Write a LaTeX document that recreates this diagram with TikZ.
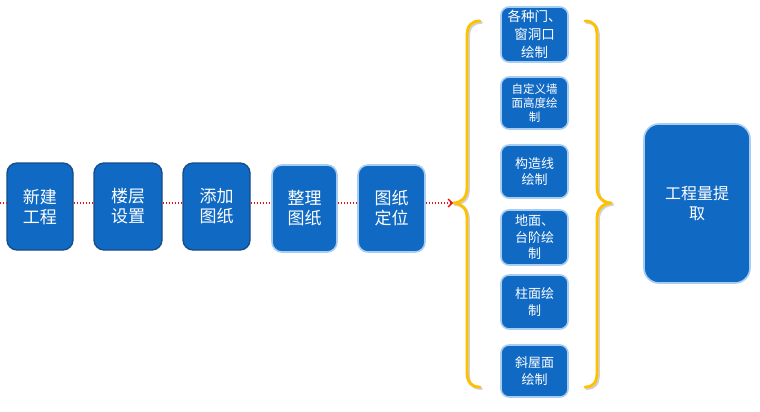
\documentclass[tikz,border=0pt]{standalone}
\usepackage{fontspec}
\setmainfont{Noto Sans CJK SC}
\usetikzlibrary{arrows.meta}
\definecolor{boxblue}{HTML}{1069C3}
\definecolor{darkedge}{HTML}{164C86}
\definecolor{glowedge}{HTML}{A7CDF2}
\definecolor{bracecol}{HTML}{FFC000}
\definecolor{flowred}{HTML}{F01010}
\tikzset{
  leftbox/.style={draw=darkedge, line width=1.3pt, fill=boxblue, rounded corners=10pt,
    text=white, align=center, inner sep=0pt, minimum width=66pt, minimum height=87pt,
    font=\fontsize{17}{20}\selectfont},
  glowbox/.style={draw=glowedge, line width=1.6pt, fill=boxblue, rounded corners=10pt,
    text=white, align=center, inner sep=0pt, minimum width=66pt, minimum height=87pt,
    font=\fontsize{17}{20}\selectfont},
  colbox/.style={draw=glowedge, line width=1.6pt, fill=boxblue, rounded corners=8pt,
    text=white, align=center, inner sep=0pt, minimum width=67pt,
    font=\fontsize{13}{16.5}\selectfont},
  bigbox/.style={draw=glowedge, line width=1.6pt, fill=boxblue, rounded corners=15pt,
    text=white, align=center, inner sep=0pt, minimum width=106pt, minimum height=159pt,
    font=\fontsize{16}{20}\selectfont},
  bracepath/.style={draw=bracecol, line width=2.8pt, line cap=round},
  braceshadow/.style={draw=black!18, line width=2.8pt, line cap=round},
  flowline/.style={draw=flowred, line width=1.4pt, dash pattern=on 1.4pt off 1.6pt},
}
\begin{document}
\begin{tikzpicture}[x=1pt,y=-1pt]
\useasboundingbox[fill=white] (0,0) rectangle (760,412);

% braces (shadow first)
\begin{scope}[shift={(1.5,1.5)}]
\draw[braceshadow] (480,21) .. controls (471,21) and (467,26) .. (467,36) -- (467,188) .. controls (467,198) and (461,203) .. (453,203) .. controls (461,203) and (467,208) .. (467,218) -- (467,372) .. controls (467,382) and (471,387) .. (480,387);
\draw[braceshadow] (585,21) .. controls (594,21) and (597,26) .. (597,36) -- (597,188) .. controls (597,198) and (604,203) .. (612,203) .. controls (604,203) and (597,208) .. (597,218) -- (597,372) .. controls (597,382) and (594,387) .. (585,387);
\end{scope}
\draw[bracepath] (480,21) .. controls (471,21) and (467,26) .. (467,36) -- (467,188) .. controls (467,198) and (461,203) .. (453,203) .. controls (461,203) and (467,208) .. (467,218) -- (467,372) .. controls (467,382) and (471,387) .. (480,387);
\draw[bracepath] (585,21) .. controls (594,21) and (597,26) .. (597,36) -- (597,188) .. controls (597,198) and (604,203) .. (612,203) .. controls (604,203) and (597,208) .. (597,218) -- (597,372) .. controls (597,382) and (594,387) .. (585,387);

% flow boxes
\node[leftbox] (b1) at (40,206.5) {新建\\工程};
\node[leftbox, minimum width=68pt] (b2) at (128,206.5) {楼层\\设置};
\node[leftbox, minimum width=67pt] (b3) at (216.5,206.5) {添加\\图纸};
\node[glowbox, minimum width=65pt] (b4) at (304.5,208.5) {整理\\图纸};
\node[glowbox, minimum width=67pt] (b5) at (391.5,208.5) {图纸\\定位};

\coordinate (start) at (0,203);
\coordinate (tip) at (453,203);

% column boxes
\node[colbox, minimum height=55pt, font=\fontsize{13.5}{18}\selectfont] (cA) at (534.5,34.5) {各种门、\\窗洞口\\绘制};
\node[colbox, minimum height=52pt, font=\fontsize{11.5}{14}\selectfont] (cB) at (534.5,103) {自定义墙\\面高度绘\\制};
\node[colbox, minimum height=53pt] (cC) at (534.5,171.5) {构造线\\绘制};
\node[colbox, minimum height=55pt] (cD) at (534.5,237.5) {地面、\\台阶绘\\制};
\node[colbox, minimum height=54pt] (cE) at (534.5,302) {柱面绘\\制};
\node[colbox, minimum height=52pt] (cF) at (534.5,371) {斜屋面\\绘制};

\node[bigbox] (big) at (697,203.5) {工程量提\\取};

% dotted flow line
\draw[flowline] (start) -- (start -| b1.west);
\draw[flowline] (b1.east |- start) -- (b2.west |- start);
\draw[flowline] (b2.east |- start) -- (b3.west |- start);
\draw[flowline] (b3.east |- start) -- (b4.west |- start);
\draw[flowline] (b4.east |- start) -- (b5.west |- start);
\draw[flowline, -{Straight Barb[length=4pt,width=8pt,line width=1.4pt]}] (b5.east |- start) -- (tip);
\end{tikzpicture}
\end{document}
